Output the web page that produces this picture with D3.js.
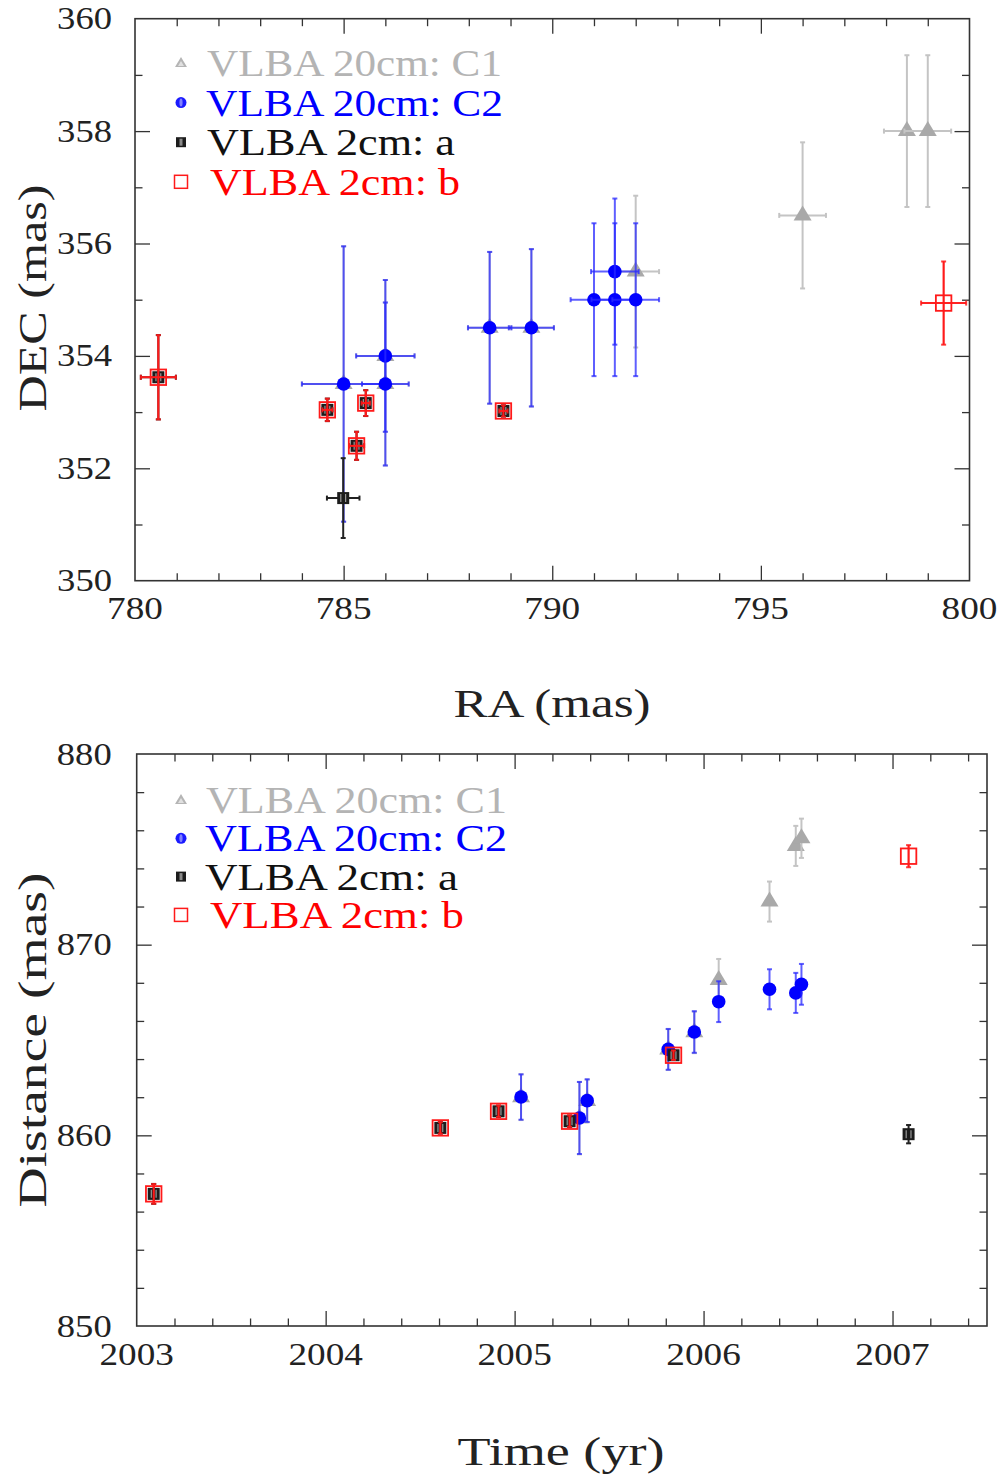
<!DOCTYPE html>
<html><head><meta charset="utf-8">
<script src="https://cdn.jsdelivr.net/npm/d3@7"></script>
<style>body{margin:0;background:#fff}svg{display:block}</style>
</head><body><svg id="c" width="1002" height="1474"></svg>
<script>
// ---------------- DATA ----------------
const legendLabels = ["VLBA 20cm: C1", "VLBA 20cm: C2", "VLBA 2cm: a", "VLBA 2cm: b"];

// 20cm epochs (shared by C1 and C2)
const epoch20 = [2005.034, 2005.343, 2005.384, 2005.813, 2005.951, 2006.080, 2006.349, 2006.488, 2006.518];
// C1 (grey triangles)
const c1RA      = [786.0, 785.0, 786.0, 788.5, 789.5, 792.0, 796.0, 798.5, 799.0];
const c1DEC     = [354.0, 353.5, 353.5, 354.5, 354.5, 355.5, 356.5, 358.0, 358.0];
const c1RAerr   = [0.70, 1.00, 0.56, 0.52, 0.54, 0.56, 0.56, 0.55, 0.56];
const c1DECerr  = [1.35, 2.45, 1.45, 1.35, 1.40, 1.35, 1.30, 1.35, 1.35];
const c1Dist    = [862.0, 860.9, 861.8, 864.5, 865.4, 868.15, 872.26, 875.18, 875.58];
const c1DistErr = [1.20, 1.90, 1.12, 1.07, 1.09, 1.10, 1.05, 1.05, 1.03];
// C2 (blue circles)
const c2RA      = [786.0, 785.0, 786.0, 788.5, 789.5, 791.0, 791.5, 791.5, 792.0];
const c2DEC     = [354.0, 353.5, 353.5, 354.5, 354.5, 355.0, 355.5, 355.0, 355.0];
const c2RAerr   = [0.70, 1.00, 0.56, 0.52, 0.54, 0.56, 0.57, 0.56, 0.56];
const c2DECerr  = [1.35, 2.45, 1.45, 1.35, 1.40, 1.36, 1.30, 1.36, 1.36];
const c2Dist    = [862.01, 860.91, 861.82, 864.51, 865.42, 867.01, 867.66, 867.47, 867.92];
const c2DistErr = [1.19, 1.89, 1.12, 1.07, 1.09, 1.07, 1.05, 1.05, 1.07];

// 2cm epochs (a and b)
const epoch2 = [2003.090, 2004.607, 2004.915, 2005.291, 2005.841, 2007.085];
// a (black filled squares)
const aRA      = [780.56, 784.61, 785.53, 785.31, 788.83, 784.99];
const aDEC     = [353.62, 353.04, 353.16, 352.40, 353.02, 351.47];
const aRAerr   = [0.42, 0.12, 0.10, 0.18, 0.10, 0.39];
const aDECerr  = [0.75, 0.20, 0.23, 0.25, 0.10, 0.71];
const aDist    = [856.93, 860.39, 861.26, 860.74, 864.20, 860.06];
const aDistErr = [0.52, 0.30, 0.30, 0.30, 0.25, 0.48];
// b (red open squares)
const bRA      = [780.56, 784.61, 785.53, 785.31, 788.83, 799.38];
const bDEC     = [353.62, 353.04, 353.16, 352.40, 353.02, 354.94];
const bRAerr   = [0.42, 0.12, 0.10, 0.18, 0.10, 0.54];
const bDECerr  = [0.75, 0.20, 0.23, 0.25, 0.10, 0.74];
const bDist    = [856.93, 860.39, 861.26, 860.74, 864.20, 874.64];
const bDistErr = [0.52, 0.30, 0.30, 0.30, 0.25, 0.58];

// axis ticks
const raTicks = [780, 785, 790, 795, 800];
const decTicks = [350, 352, 354, 356, 358, 360];
const timeTicks = [2003, 2004, 2005, 2006, 2007];
const distTicks = [850, 860, 870, 880];

// ---------------- DRAWING ----------------
const svg = d3.select("#c");
const FONT = "'Liberation Serif','Times New Roman',serif";

const styles = [
  {name:"c1", marker:"tri",   fill:"#a9a9a9", bar:"#c4c4c4", barOp:1,    text:"#b4b4b4"},
  {name:"c2", marker:"circ",  fill:"#0000ff", bar:"#2a2aff", barOp:0.75, text:"#0000ff"},
  {name:"a",  marker:"sqa",   fill:"#1a1a1a", bar:"#222222", barOp:1,    text:"#111111"},
  {name:"b",  marker:"sqb",   fill:"none",    bar:"#ff1a1a", barOp:0.85, text:"#ff0000"}
];

function drawMarker(g, kind, st, scale) {
  const s = scale || 1;
  if (kind === "tri") {
    const w = 18*s, h = 15*s;
    g.append("path").attr("d", `M0,${-2*h/3} L${w/2},${h/3} L${-w/2},${h/3} Z`).attr("fill", st.fill);
  } else if (kind === "circ") {
    g.append("circle").attr("r", 6.8*s).attr("fill", st.fill);
  } else if (kind === "sqa") {
    const a = 12*s;
    g.append("rect").attr("x",-a/2).attr("y",-a/2).attr("width",a).attr("height",a).attr("fill","#1c1c1c");
    [-a/5, a/5].forEach(dx => g.append("line").attr("x1",dx).attr("x2",dx).attr("y1",-a/2+2*s).attr("y2",a/2-2*s)
      .attr("stroke","#9a9a9a").attr("stroke-width",1.2*s));
  } else if (kind === "sqb") {
    const a = 15.5*s;
    g.append("rect").attr("x",-a/2).attr("y",-a/2).attr("width",a).attr("height",a)
      .attr("fill","none").attr("stroke","#ff1a1a").attr("stroke-width",1.8);
  }
}

function panel(cfg) {
  const x = d3.scaleLinear().domain(cfg.xd).range([cfg.l, cfg.r]);
  const y = d3.scaleLinear().domain(cfg.yd).range([cfg.b, cfg.t]);
  const g = svg.append("g");

  // ticks
  const minorX = d3.range(cfg.xd[0], cfg.xd[1] + 1e-9, cfg.xMinor).filter(v => !cfg.xMajor.some(m => Math.abs(m - v) < 1e-6));
  const minorY = d3.range(cfg.yd[0], cfg.yd[1] + 1e-9, cfg.yMinor).filter(v => !cfg.yMajor.some(m => Math.abs(m - v) < 1e-6));
  const TM = 15, Tm = 7.5;
  function axis(gen, vals, size, tr, labels, pad) {
    const a = gen.tickValues(vals).tickSize(-size).tickPadding(pad || 3)
      .tickFormat(labels ? d3.format("d") : () => "");
    const ag = g.append("g").attr("transform", tr).call(a);
    ag.select(".domain").remove();
    ag.selectAll("line").attr("stroke", "#333").attr("stroke-width", 1.3);
    return ag;
  }
  const bx = axis(d3.axisBottom(x), cfg.xMajor.filter(v=>v>cfg.xd[0]&&v<cfg.xd[1]), TM, `translate(0,${cfg.b})`, false);
  axis(d3.axisBottom(x), minorX, Tm, `translate(0,${cfg.b})`, false);
  axis(d3.axisTop(x), cfg.xMajor.filter(v=>v>cfg.xd[0]&&v<cfg.xd[1]), TM, `translate(0,${cfg.t})`, false);
  axis(d3.axisTop(x), minorX, Tm, `translate(0,${cfg.t})`, false);
  axis(d3.axisLeft(y), cfg.yMajor.filter(v=>v>cfg.yd[0]&&v<cfg.yd[1]), TM, `translate(${cfg.l},0)`, false);
  axis(d3.axisLeft(y), minorY, Tm, `translate(${cfg.l},0)`, false);
  axis(d3.axisRight(y), cfg.yMajor.filter(v=>v>cfg.yd[0]&&v<cfg.yd[1]), TM, `translate(${cfg.r},0)`, false);
  axis(d3.axisRight(y), minorY, Tm, `translate(${cfg.r},0)`, false);

  // frame
  g.append("rect").attr("x", cfg.l).attr("y", cfg.t).attr("width", cfg.r - cfg.l).attr("height", cfg.b - cfg.t)
    .attr("fill", "none").attr("stroke", "#333").attr("stroke-width", 1.6);

  // tick labels
  g.selectAll(".xl").data(cfg.xMajor).join("text")
    .attr("x", d => x(d)).attr("y", cfg.b + cfg.xLabDy)
    .attr("text-anchor", "middle").attr("font-family", FONT).attr("font-size", 31).attr("fill", "#222")
    .attr("textLength", d => String(d).length * 18.6).attr("lengthAdjust", "spacingAndGlyphs")
    .text(d => d);
  g.selectAll(".yl").data(cfg.yMajor).join("text")
    .attr("x", cfg.l - cfg.yLabDx).attr("y", d => y(d) + 10.5)
    .attr("text-anchor", "end").attr("font-family", FONT).attr("font-size", 31).attr("fill", "#222")
    .attr("textLength", d => String(d).length * 18.3).attr("lengthAdjust", "spacingAndGlyphs")
    .text(d => d);

  // axis titles
  g.append("text").attr("x", cfg.xTitle[0]).attr("y", cfg.xTitle[1])
    .attr("text-anchor", "middle").attr("font-family", FONT).attr("font-size", 41).attr("fill", "#222")
    .attr("textLength", cfg.xTitle[2]).attr("lengthAdjust", "spacingAndGlyphs").text(cfg.xLabel);
  g.append("text").attr("transform", `translate(${cfg.yTitle[0]},${cfg.yTitle[1]}) rotate(-90)`)
    .attr("text-anchor", "middle").attr("font-family", FONT).attr("font-size", 41).attr("fill", "#222")
    .attr("textLength", cfg.yTitle[2]).attr("lengthAdjust", "spacingAndGlyphs").text(cfg.yLabel);

  // series
  cfg.series.forEach((ser, si) => {
    const st = styles[si];
    const sg = g.append("g");
    const pts = ser.x.map((v, i) => ({x: v, y: ser.y[i], ex: ser.ex ? ser.ex[i] : 0, ey: ser.ey[i]}));
    const cap = 2.5;
    pts.forEach(p => {
      const px = x(p.x), py = y(p.y);
      const bars = sg.append("g").attr("stroke", st.bar).attr("stroke-opacity", st.barOp).attr("stroke-width", 2).attr("fill","none");
      if (p.ey > 0) {
        const y1 = y(p.y + p.ey), y2 = y(p.y - p.ey);
        bars.append("line").attr("x1", px).attr("x2", px).attr("y1", y1).attr("y2", y2);
        bars.append("line").attr("x1", px - cap).attr("x2", px + cap).attr("y1", y1).attr("y2", y1);
        bars.append("line").attr("x1", px - cap).attr("x2", px + cap).attr("y1", y2).attr("y2", y2);
      }
      if (p.ex > 0) {
        const x1 = x(p.x - p.ex), x2 = x(p.x + p.ex);
        bars.append("line").attr("x1", x1).attr("x2", x2).attr("y1", py).attr("y2", py);
        bars.append("line").attr("x1", x1).attr("x2", x1).attr("y1", py - cap).attr("y2", py + cap);
        bars.append("line").attr("x1", x2).attr("x2", x2).attr("y1", py - cap).attr("y2", py + cap);
      }
      const mg = sg.append("g").attr("transform", `translate(${px},${py})`);
      drawMarker(mg, st.marker, st, 1);
      // for the red open squares, redraw bars on top (they cross the marker)
      if (st.name === "b") {
        const top = sg.append("g").attr("stroke", st.bar).attr("stroke-width", 1.6);
        if (p.ey > 0) top.append("line").attr("x1", px).attr("x2", px).attr("y1", y(p.y + p.ey)).attr("y2", y(p.y - p.ey));
        if (p.ex > 0) top.append("line").attr("x1", x(p.x - p.ex)).attr("x2", x(p.x + p.ex)).attr("y1", py).attr("y2", py);
      }
    });
  });

  // legend
  legendLabels.forEach((lab, i) => {
    const st = styles[i];
    const ly = cfg.leg.y0 + i * cfg.leg.dy;
    const mg = g.append("g").attr("transform", `translate(${cfg.leg.mx},${ly})`);
    if (st.marker === "tri") {
      mg.append("path").attr("d", "M0,-6 L6,4 L-6,4 Z").attr("fill", "#b5b5b5");
      mg.append("path").attr("d", "M0,-2 L3,3 L-3,3 Z").attr("fill", "#e0e0e0");
    } else if (st.marker === "circ") {
      mg.append("circle").attr("r", 5.5).attr("fill", "#1a1aff");
      mg.append("ellipse").attr("rx", 1.6).attr("ry", 4).attr("fill", "#8080ff");
    } else if (st.marker === "sqa") {
      mg.append("rect").attr("x", -5).attr("y", -5).attr("width", 10).attr("height", 10).attr("fill", "#1c1c1c");
      mg.append("rect").attr("x", -1.5).attr("y", -3.5).attr("width", 3).attr("height", 7).attr("fill", "#8a8a8a");
    } else {
      mg.append("rect").attr("x", -6.5).attr("y", -6.5).attr("width", 13).attr("height", 13)
        .attr("fill", "none").attr("stroke", "#ff1a1a").attr("stroke-width", 1.5);
    }
    g.append("text").attr("x", cfg.leg.tx[i]).attr("y", ly + 13)
      .attr("font-family", FONT).attr("font-size", 38).attr("fill", st.text)
      .attr("textLength", cfg.leg.tw[i]).attr("lengthAdjust", "spacingAndGlyphs").text(lab);
  });
}

panel({
  l: 135, r: 969.5, t: 18.7, b: 580.7,
  xd: [780, 800], yd: [350, 360],
  xMajor: raTicks, yMajor: decTicks, xMinor: 1, yMinor: 1,
  xLabDy: 38, yLabDx: 23,
  xLabel: "RA (mas)", yLabel: "DEC (mas)",
  xTitle: [552, 717, 197], yTitle: [46, 298, 227],
  leg: {mx: 181, y0: 63, dy: 39.6, tx: [207, 206, 207, 210], tw: [295, 297, 248, 250]},
  series: [
    {x: c1RA, y: c1DEC, ex: c1RAerr, ey: c1DECerr},
    {x: c2RA, y: c2DEC, ex: c2RAerr, ey: c2DECerr},
    {x: aRA,  y: aDEC,  ex: aRAerr,  ey: aDECerr},
    {x: bRA,  y: bDEC,  ex: bRAerr,  ey: bDECerr}
  ]
});

panel({
  l: 136.7, r: 987, t: 754, b: 1326,
  xd: [2003, 2007.5], yd: [850, 880],
  xMajor: timeTicks, yMajor: distTicks, xMinor: 0.2, yMinor: 2,
  xLabDy: 39, yLabDx: 25,
  xLabel: "Time (yr)", yLabel: "Distance (mas)",
  xTitle: [561, 1465, 207], yTitle: [46, 1040, 335],
  leg: {mx: 181, y0: 800, dy: 38.3, tx: [206, 205, 205, 210], tw: [301, 302, 253, 254]},
  series: [
    {x: epoch20, y: c1Dist, ey: c1DistErr},
    {x: epoch20, y: c2Dist, ey: c2DistErr},
    {x: epoch2,  y: aDist,  ey: aDistErr},
    {x: epoch2,  y: bDist,  ey: bDistErr}
  ]
});
</script>
</body></html>
